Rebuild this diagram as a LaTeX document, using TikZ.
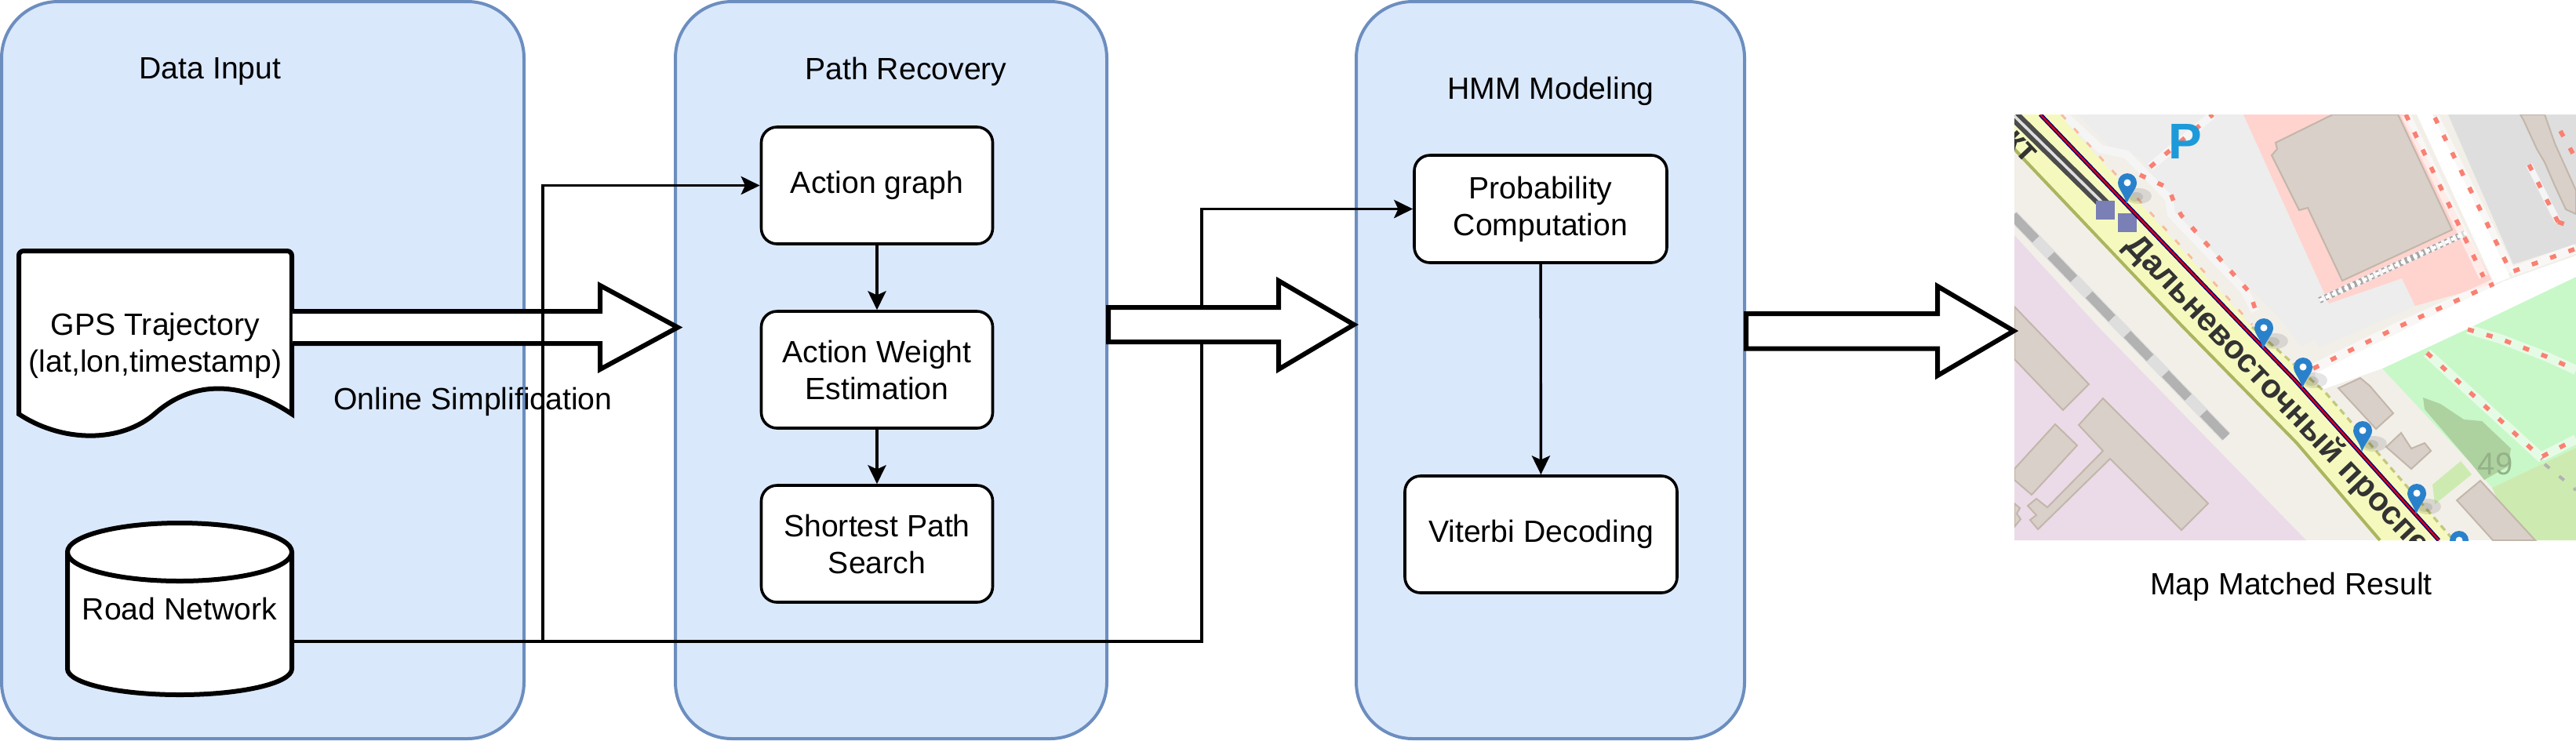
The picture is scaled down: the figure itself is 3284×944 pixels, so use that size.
\documentclass[tikz,border=0pt]{standalone}
\usepackage{fontspec}
\setmainfont{Liberation Sans}
\usetikzlibrary{arrows.meta}
\definecolor{panelfill}{HTML}{DAE8FC}
\definecolor{paneldraw}{HTML}{6C8EBF}
\definecolor{mapbase}{HTML}{F2EFE9}
\definecolor{mapyellow}{HTML}{F6F9BE}
\definecolor{mapolive}{HTML}{ABB55E}
\definecolor{mappurple}{HTML}{EBDBE8}
\definecolor{mappink}{HTML}{FFD3CE}
\definecolor{mapbuilding}{HTML}{D9D0C9}
\definecolor{mapedge}{HTML}{C3B6AA}
\definecolor{mapgrey}{HTML}{EDEDED}
\definecolor{mapdgrey}{HTML}{DEDEDE}
\definecolor{mapgreen}{HTML}{C8F8C8}
\definecolor{mapgrass}{HTML}{CDEBB0}
\definecolor{mapwood}{HTML}{AED1A0}
\definecolor{mapsalmon}{HTML}{FA8072}
\definecolor{pinblue}{HTML}{2A81CB}
\definecolor{pblue}{HTML}{1D9AD9}
\definecolor{stopblue}{HTML}{7A7FB5}
\tikzset{
  >={Stealth[length=6pt,width=5.8pt,inset=1.3pt]},
  label/.style={font=\fontsize{9.8}{11.75}\selectfont,align=center,inner sep=0pt},
  panel/.style={draw=paneldraw,fill=panelfill,line width=1pt,rounded corners=18pt,minimum height=940*.25pt},
  stepbox/.style={label,draw,fill=white,line width=.9pt,rounded corners=5pt},
  link/.style={line width=.85pt},
  bigarrow/.style={draw,fill=white,line width=1.5pt,miter limit=10},
  house/.style={fill=mapbuilding,draw=mapedge,line width=.5pt},
  footway/.style={draw=white!92!gray,line width=2.6pt},
  footband/.style={draw=white,opacity=.55,line width=3pt},
  footdash/.style={draw=mapsalmon,line width=1.4pt,dash pattern=on 2pt off 4.2pt}
}
\begin{document}
\begin{tikzpicture}[x=.25pt,y=-.25pt]
    \useasboundingbox (0,0) rectangle (3284,944);

    \node[panel,minimum width=666*.25pt] (inputpanel) at (335,472) {};
    \node[panel,minimum width=550*.25pt] (recoverypanel) at (1136,472) {};
    \node[panel,minimum width=495*.25pt] (hmmpanel) at (1976.5,472) {};

    \node[label] (inputtitle) at (268,91) {Data Input};
    \node[label] (recoverytitle) at (1155,91) {Path Recovery};
    \node[label] (hmmtitle) at (1977,116) {HMM Modeling};

    \draw[fill=white,line width=1.5pt,rounded corners=1.5pt] (24,528) -- (24,320) -- (372,320) -- (372,380)
        [sharp corners] -- (372,528) .. controls (300,480) and (240,490) .. (198,527)
        .. controls (155,565) and (80,565) .. (24,528) -- cycle;
    \node[label,minimum width=348*.25pt] (gps) at (198,441) {GPS Trajectory\\(lat,lon,timestamp)};
    \draw[fill=white,line width=1.5pt] (86,704) -- (86,853) arc[start angle=180,end angle=0,x radius=143,y radius=33]
        -- (372,704) arc[start angle=0,end angle=-180,x radius=143,y radius=37] -- cycle;
    \draw[line width=1.5pt] (86,704) arc[start angle=180,end angle=0,x radius=143,y radius=37];
    \node[label,minimum width=286*.25pt,minimum height=219*.25pt] (road) at (229,776.5) {Road Network};

    \node[stepbox,minimum width=295*.25pt,minimum height=149*.25pt] (actiongraph) at (1118,236.5) {Action graph};
    \node[stepbox,minimum width=295*.25pt,minimum height=149*.25pt] (actionweight) at (1118,471.5) {Action Weight\\Estimation};
    \node[stepbox,minimum width=295*.25pt,minimum height=149*.25pt] (shortest) at (1118,693.5) {Shortest Path\\Search};
    \node[stepbox,minimum width=322*.25pt,minimum height=137*.25pt] (prob) at (1964,266.5) {Probability\\Computation};
    \node[stepbox,minimum width=347*.25pt,minimum height=149*.25pt] (viterbi) at (1964.5,681.5) {Viterbi Decoding};

    \draw[->,link] (actiongraph) -- (actionweight);
    \draw[->,link] (actionweight) -- (shortest);
    \draw[->,link] (prob) -- (viterbi);

    \coordinate (roadout) at ([yshift=-10.4pt]road.east);
    \coordinate (branch) at (692,0);
    \coordinate (bend) at (1532,0);
    \draw[->,link] (roadout) -- (bend |- roadout) -- (bend |- prob.west) -- (prob.west);

    \draw[bigarrow] (recoverypanel.east |- 0,392) -- (1630,392) -- (1630,358) -- (1726,414) -- (1630,471) -- (1630,436)
        -- (recoverypanel.east |- 0,436) -- cycle;

    \draw[bigarrow] (gps.east |- 0,397) -- (765,397) -- (765,364) -- (864,417.5) -- (765,471) -- (765,438) -- (gps.east |- 0,438);
    \draw[->,link] (branch |- roadout) -- (branch |- actiongraph.west) -- (actiongraph.west);

    \node[label] (simplify) at (603,512) {Online Simplification};
    \node[label] (maptitle) at (2921,748) {Map Matched Result};

    \node[minimum width=716*.25pt,minimum height=543*.25pt,inner sep=0pt] (map) at (2926,417.5) {};

    \begin{scope}[shift={(2568,146)}]
        \clip (0,0) rectangle (716,543);
        \fill[mapbase] (0,0) rectangle (716,543);
        \fill[mappurple] (0,154) -- (110,274) -- (372,543) -- (0,543) -- cycle;
        % parking and the pink yard
        \fill[mapgrey] (80,0) -- (292,0) -- (401,241) -- (494,209) -- (511,244) -- (389,297) -- (383,287) -- (366,296)
            -- (340,262) -- (205,125) -- (193,100) -- (160,55) -- (120,40) -- cycle;
        \fill[mappink] (292,0) -- (496,0) -- (611,216) -- (511,244) -- (494,209) -- (401,241) -- cycle;
        \fill[mapdgrey] (553,0) -- (716,0) -- (716,165) -- (636,191) -- cycle;
        % green areas
        \fill[mapgreen] (469,324) -- (576,274) -- (716,207) -- (716,425) -- (609,476) -- (583,446) -- cycle;
        \fill[mapgrass] (609,476) -- (666,449) -- (716,425) -- (716,543) -- (640,543) -- cycle;
        \fill[mapgrass] (533,472) -- (569,442) -- (583,459) -- (536,497) -- cycle;
        \fill[mapwood] (521,361) -- (543,369) -- (573,389) -- (596,391) -- (633,426) -- (629,449) -- (599,466) -- (583,446) -- (523,376) -- cycle;
        \node[text=mapwood!85!black,font=\fontsize{10}{10}\selectfont,inner sep=0pt] (wood) at (613,446) {49};
        % white roads
        \fill[white] (716,180) -- (623,213) -- (383,330) -- (389,352) -- (469,324) -- (576,274) -- (716,207) -- cycle;
        \fill[white] (513,0) -- (533,0) -- (632,208) -- (612,216) -- cycle;
        % buildings
        \filldraw[house] (333,36) -- (406,0) -- (489,0) -- (558,147) -- (418,212) -- (374,119) -- (363,122) -- (328,52) -- (335,44) -- cycle;
        \filldraw[house] (649,7) -- (666,44) -- (676,61) -- (689,91) -- (703,121) -- (716,127) -- (716,97) -- (689,37) -- (676,0) -- (645,0) -- cycle;
        \filldraw[house] (0,245) -- (95,344) -- (62,377) -- (0,312) -- cycle;
        \filldraw[house] (82,396) -- (113,362) -- (247,496) -- (213,530) -- (122,439) -- (30,529) -- (20,517) -- (28,511) -- (17,499) -- (28,490) -- (42,501) -- (113,429) -- cycle;
        \filldraw[house] (52,395) -- (80,422) -- (22,485) -- (0,466) -- (0,452) -- cycle;
        \filldraw[house] (0,496) -- (7,502) -- (3,509) -- (8,516) -- (0,526) -- cycle;
        \filldraw[house] (413,349) -- (441,336) -- (453,346) -- (483,381) -- (461,401) -- cycle;
        \filldraw[house] (474,424) -- (493,406) -- (506,426) -- (523,419) -- (531,429) -- (506,452) -- cycle;
        \filldraw[house] (564,492) -- (594,467) -- (664,543) -- (610,543) -- cycle;
        % footways
        \draw[footway] (63,0) -- (110,44) -- (143,51) -- (197,107) -- (200,127) -- (293,224) -- (307,251);
        \draw[footway] (173,67) -- (253,0);
        \draw[footway,line width=2pt] (389,237) -- (576,151);
        \draw[gray!70,line width=2pt,dash pattern=on 1pt off 1pt] (389,237) -- (576,151);
        \draw[footway,draw=white,line width=1pt,dash pattern=on 1.2pt off 1pt] (389,237) -- (576,151);
        \draw[footway,line width=2pt] (656,64) -- (693,137);
        \draw[footband] (633,201) -- (716,171);
        \draw[footband] (499,0) -- (598,207);
        \draw[footband] (536,4) -- (633,201);
        \draw[footband] (381,324) -- (489,271) -- (611,216);
        \draw[footband] (526,304) -- (673,439);
        \draw[footband] (578,274) -- (619,286) -- (679,309) -- (716,326);
        \draw[footband] (673,436) -- (716,414);
        \draw[footdash] (160,77) -- (197,94) -- (203,111) -- (213,129) -- (300,227) -- (310,257);
        \draw[footdash] (173,67) -- (253,0);
        \draw[footdash] (499,0) -- (598,207);
        \draw[footdash] (536,4) -- (633,201) -- (716,171);
        \draw[footdash] (381,324) -- (489,271) -- (611,216);
        \draw[footdash] (656,64) -- (693,137);
        \draw[footdash] (696,21) -- (716,57);
        \draw[footdash] (693,137) -- (716,145);
        \draw[footdash] (526,304) -- (673,439);
        \draw[footdash] (578,274) -- (619,286) -- (679,309) -- (716,326);
        \draw[footdash] (673,436) -- (716,414);
        \draw[gray!60,line width=1pt,dash pattern=on 2pt off 4pt] (676,446) -- (716,479);
        % disused rail beside the road
        \draw[mapdgrey,line width=3.6pt] (-2,129) -- (270,411);
        \draw[gray!60,line width=3pt,dash pattern=on 10.5pt off 7pt] (-2,129) -- (270,411);
        % main road
        \fill[mapyellow] (0,0) -- (57,0) -- (303,271) -- (396,354) -- (560,543) -- (466,543) -- (360,419) -- (213,269) -- (12,57) -- (0,44) -- cycle;
        \draw[mapolive,line width=1pt] (0,44) -- (12,57) -- (213,269) -- (360,419) -- (466,543);
        \draw[mapolive!70!mapyellow,line width=.8pt,dash pattern=on 2pt off 1.5pt] (303,271) -- (396,354) -- (560,543);
        \draw[mapsalmon!50!mapyellow,line width=.7pt,dash pattern=on 2pt off 4pt] (60,0) -- (303,268);
        \draw[black!70,line width=3.8pt] (0,2) -- (118,118);
        \draw[white!75!gray,line width=.9pt] (0,2) -- (118,118);
        \node[rotate=-46.5,anchor=west,text=black!80,font=\bfseries\fontsize{10.5}{10.5}\selectfont,inner sep=0pt] (roadname) at (147,160) {Дальневосточный проспект};
        \node[rotate=-46.5,text=black!80,font=\bfseries\fontsize{10.5}{10.5}\selectfont,inner sep=0pt] (roadend) at (8,41) {кт};
        \node[text=pblue,font=\bfseries\fontsize{16}{16}\selectfont,inner sep=0pt] (parking) at (218,34) {P};
        \fill[stopblue] (104,110) rectangle (128,134);
        \fill[stopblue] (132,126) rectangle (156,150);
        % the matched route
        \draw[blue!50!black,line width=1.3pt] (33,0) -- (295,274) -- (356,337) -- (541,543);
        \draw[red!90!black,line width=.55pt] (33,0) -- (295,274) -- (356,337) -- (541,543);
        \foreach \pinx/\piny in {144/87,318/272,368/322,444/403,513/483,567/543}{
            \begin{scope}[shift={(\pinx,\piny)}]
                \fill[black,opacity=.1] (14,17) ellipse (17 and 10);
                \fill[black,opacity=.1] (11,18) ellipse (9 and 6);
                \fill[pinblue] (-1,27) .. controls (-4,14) and (-12,8) .. (-12,0) arc (180:360:12) .. controls (12,8) and (4,14) .. (-1,27) -- cycle;
                \fill[white] (0,0) circle (4.5);
            \end{scope}
        }
    \end{scope}

    \draw[bigarrow] (hmmpanel.east |- 0,400) -- (2470,400) -- (2470,365) -- (map.west |- 0,422) -- (2470,479) -- (2470,444.5)
        -- (hmmpanel.east |- 0,444.5) -- cycle;
\end{tikzpicture}
\end{document}
